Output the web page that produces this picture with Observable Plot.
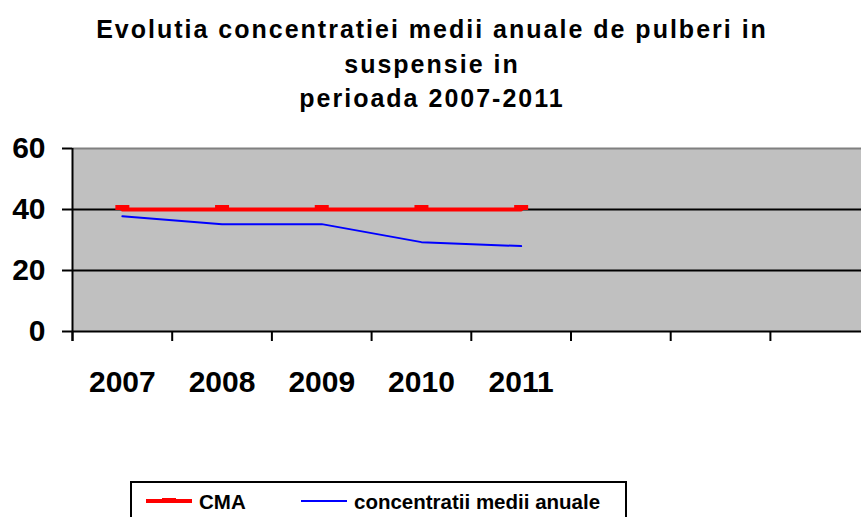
<!DOCTYPE html>
<html>
<head>
<meta charset="utf-8">
<script src="https://cdn.jsdelivr.net/npm/d3@7"></script>
<script src="https://cdn.jsdelivr.net/npm/@observablehq/plot@0.6"></script>
<style>
  body { margin: 0; background: #fff; font-family: "Liberation Sans", Arial, sans-serif; }
  #wrap { position: relative; width: 861px; height: 517px; overflow: hidden; background: #fff; }
  .tl { position: absolute; left: 0; width: 864px; text-align: center; font-weight: bold;
        font-size: 25px; line-height: 25px; letter-spacing: 2px; color: #000; white-space: nowrap; }
  #chart { position: absolute; left: 0; top: 120px; }
  #legend { position: absolute; left: 0; top: 0; }
</style>
</head>
<body>
<div id="wrap">
  <div class="tl" style="top:17px">Evolutia concentratiei medii anuale de pulberi in</div>
  <div class="tl" style="top:52px">suspensie in</div>
  <div class="tl" style="top:86px">perioada 2007-2011</div>
  <div id="chart"></div>
  <svg id="legend" width="861" height="517"></svg>
</div>
<script>
const years = ["2007", "2008", "2009", "2010", "2011"];
const slotCount = 8;
const cma = [40, 40, 40, 40, 40];
const concentratii = [37.8, 35.2, 35.2, 29.3, 28.0];
const yTicks = [0, 20, 40, 60];
const seriesNames = ["CMA", "concentratii medii anuale"];
const seriesColors = ["#ff0000", "#0000ff"];

const rows = years.map((y, i) => ({ pos: i + 0.5, year: y, cma: cma[i], conc: concentratii[i] }));
const dash = { draw(ctx) { ctx.rect(-7, -3.5, 14, 5); } };

const chart = Plot.plot({
  width: 861,
  height: 340,
  marginTop: 28,
  marginBottom: 129,
  marginLeft: 72,
  marginRight: 0,
  style: { fontFamily: "Liberation Sans, Arial, sans-serif", color: "#000", background: "transparent" },
  x: { type: "linear", domain: [0, slotCount], range: [72, 869.6] },
  y: { domain: [0, 60] },
  marks: [
    Plot.frame({ fill: "#c0c0c0", stroke: "none" }),
    Plot.ruleY([60], { stroke: "#808080", strokeWidth: 2 }),
    Plot.ruleY([20, 40], { stroke: "#000", strokeWidth: 2 }),
    Plot.ruleY([0], { stroke: "#000", strokeWidth: 2 }),
    Plot.ruleX([0], { stroke: "#000", strokeWidth: 2, insetBottom: -10 }),
    Plot.axisX(d3.range(0, slotCount + 1), { tickSize: 10, tickFormat: () => "", strokeWidth: 2, label: null }),
    Plot.axisX(rows.map(d => d.pos), {
      tickSize: 0, tickPadding: 39, tickFormat: v => years[Math.floor(v)],
      fontSize: 30, fontWeight: "bold", letterSpacing: 1, label: null
    }),
    Plot.axisY(yTicks, { tickSize: 10, tickPadding: 17, fontSize: 30, fontWeight: "bold", strokeWidth: 2, label: null }),
    Plot.line(rows, { x: "pos", y: "conc", stroke: seriesColors[1], strokeWidth: 2 }),
    Plot.line(rows, { x: "pos", y: "cma", stroke: seriesColors[0], strokeWidth: 4 }),
    Plot.dot(rows, { x: "pos", y: "cma", symbol: dash, fill: seriesColors[0], stroke: "none", dy: -1 })
  ]
});
document.getElementById("chart").appendChild(chart);

// legend
const lg = d3.select("#legend");
lg.append("rect").attr("x", 131).attr("y", 482).attr("width", 495).attr("height", 60)
  .attr("fill", "#fff").attr("stroke", "#000").attr("stroke-width", 2);
const items = [
  { name: seriesNames[0], color: seriesColors[0], x: 146, w: 4, marker: true, tx: 199 },
  { name: seriesNames[1], color: seriesColors[1], x: 301, w: 2, marker: false, tx: 354 }
];
items.forEach(it => {
  lg.append("line").attr("x1", it.x).attr("x2", it.x + 46).attr("y1", 501).attr("y2", 501)
    .attr("stroke", it.color).attr("stroke-width", it.w);
  if (it.marker) lg.append("rect").attr("x", it.x + 16).attr("y", 498).attr("width", 14).attr("height", 5).attr("fill", it.color);
  lg.append("text").attr("x", it.tx).attr("y", 509).text(it.name)
    .attr("font-family", "Liberation Sans, Arial, sans-serif").attr("font-weight", "bold")
    .attr("font-size", 20.5).attr("fill", "#000");
});
</script>
</body>
</html>
